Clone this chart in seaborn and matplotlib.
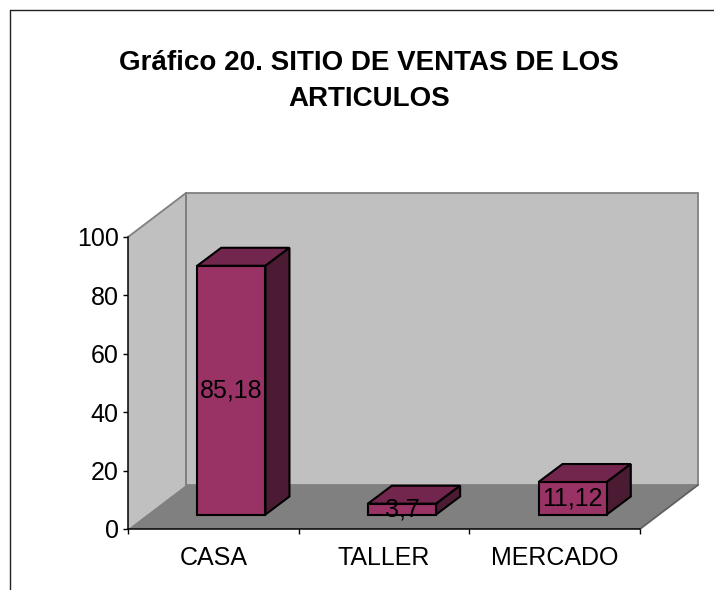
import numpy as np
import pandas as pd
import matplotlib
matplotlib.use("Agg")
import matplotlib.pyplot as plt
import seaborn as sns
from matplotlib.transforms import ScaledTranslation, IdentityTransform
from matplotlib.patches import Polygon
from matplotlib.lines import Line2D

# ---- data ----
categories = ["CASA", "TALLER", "MERCADO"]
values = [85.18, 3.7, 11.12]
value_labels = ["85,18", "3,7", "11,12"]
y_ticks = [0, 20, 40, 60, 80, 100]
title = "Gráfico 20. SITIO DE VENTAS DE LOS\nARTICULOS"

sns.set_theme(style="ticks")
plt.rcParams["font.family"] = ["Liberation Sans", "DejaVu Sans"]

W, H, DPI = 714, 590, 100
fig = plt.figure(figsize=(W / DPI, H / DPI), dpi=DPI)
fig.patch.set_facecolor("white")
ax = fig.add_axes([128 / W, (H - 529) / H, 512 / W, 292 / H])
ax.set_facecolor("none")

FRONT = "#993366"
TOP = "#73264D"
SIDE = "#4B1A33"
WALL = "#C0C0C0"
FLOOR = "#808080"
EDGE = "#808080"
FS = 18

df = pd.DataFrame({"cat": categories, "val": values})
sns.barplot(data=df, x="cat", y="val", color=FRONT, width=0.4, saturation=1,
            edgecolor="black", linewidth=1.5, ax=ax, zorder=6)
ax.set_xlim(-0.5, 2.5)
ax.set_ylim(0, 100)
ax.set_xlabel("")
ax.set_ylabel("")

def px(dx, dy):
    return ScaledTranslation(dx / DPI, dy / DPI, fig.dpi_scale_trans)

wall_off = np.array([58.0, 44.0])
bar_off = (18.0, 14.5)
depth = np.array([24.0, 18.0])

# ---- walls & floor (display coordinates) ----
fig.canvas.draw()
ta = ax.transAxes
p00 = ta.transform((0, 0)); p10 = ta.transform((1, 0))
p01 = ta.transform((0, 1)); p11 = ta.transform((1, 1))
idt = IdentityTransform()

left_wall = Polygon([p00, p01, p01 + wall_off, p00 + wall_off], closed=True,
                    facecolor=WALL, edgecolor="none", transform=idt, clip_on=False, zorder=1)
back_wall = Polygon([p00 + wall_off, p10 + wall_off, p11 + wall_off, p01 + wall_off], closed=True,
                    facecolor=WALL, edgecolor=EDGE, linewidth=1.3, transform=idt, clip_on=False, zorder=1)
floor = Polygon([p00, p10, p10 + wall_off, p00 + wall_off], closed=True,
                facecolor=FLOOR, edgecolor="none", transform=idt, clip_on=False, zorder=1.2)
for p in (left_wall, back_wall, floor):
    ax.add_patch(p)
ax.add_line(Line2D([p01[0], p01[0] + wall_off[0]], [p01[1], p01[1] + wall_off[1]],
                   color=EDGE, lw=1.3, transform=idt, clip_on=False, zorder=1.5))
ax.add_line(Line2D([p10[0], p10[0] + wall_off[0]], [p10[1], p10[1] + wall_off[1]],
                   color="#606060", lw=1.3, transform=idt, clip_on=False, zorder=1.5))
ax.add_line(Line2D([p00[0] + wall_off[0], p01[0] + wall_off[0]],
                   [p00[1] + wall_off[1], p01[1] + wall_off[1]],
                   color=EDGE, lw=1.3, transform=idt, clip_on=False, zorder=1.5))

# ---- 3D bars ----
boff = px(*bar_off)
for patch, lab in zip(ax.patches[:], value_labels):
    if not hasattr(patch, "get_width"):
        continue
    x, y = patch.get_x(), patch.get_y()
    w, h = patch.get_width(), patch.get_height()
    patch.set_transform(ax.transData + boff)
    td = ax.transData
    fl = td.transform((x, y + h)) + np.array(bar_off)
    fr = td.transform((x + w, y + h)) + np.array(bar_off)
    br = td.transform((x + w, y)) + np.array(bar_off)
    top = Polygon([fl, fr, fr + depth, fl + depth], closed=True, facecolor=TOP,
                  edgecolor="black", linewidth=1.5, transform=idt, clip_on=False, zorder=5)
    side = Polygon([br, fr, fr + depth, br + depth], closed=True, facecolor=SIDE,
                   edgecolor="black", linewidth=1.5, transform=idt, clip_on=False, zorder=5)
    ax.add_patch(top)
    ax.add_patch(side)
    ax.text(x + w / 2, y + h / 2, lab, transform=ax.transData + boff,
            ha="center", va="center", fontsize=FS, color="black", zorder=7)

# ---- axes styling ----
for s in ("top", "right"):
    ax.spines[s].set_visible(False)
for s in ("left", "bottom"):
    ax.spines[s].set_color("black")
    ax.spines[s].set_linewidth(1.1)
    ax.spines[s].set_zorder(3)

ax.set_yticks(y_ticks)
ax.set_yticklabels([str(v) for v in y_ticks])
ax.tick_params(axis="y", which="major", length=3.6, width=1, color="black",
               pad=3, labelsize=FS, labelcolor="black", left=True)
ax.set_xticks(range(len(categories)))
ax.set_xticklabels(categories)
ax.set_xticks([-0.5, 0.5, 1.5, 2.5], minor=True)
ax.tick_params(axis="x", which="major", length=0, pad=12, labelsize=FS, labelcolor="black")
ax.tick_params(axis="x", which="minor", length=3.6, width=1, color="black", bottom=True)

# ---- title & frame ----
fig.text(369 / W, 1 - 81 / H, title, ha="center", va="center", multialignment="center",
         fontsize=20, fontweight="bold", color="black", linespacing=1.48)
fig.add_artist(Line2D([10, W], [H - 10, H - 10], color="#222222", lw=1.0, transform=idt))
fig.add_artist(Line2D([10, 10], [0, H - 10], color="#222222", lw=1.0, transform=idt))

fig.savefig("out.png", dpi=DPI)
